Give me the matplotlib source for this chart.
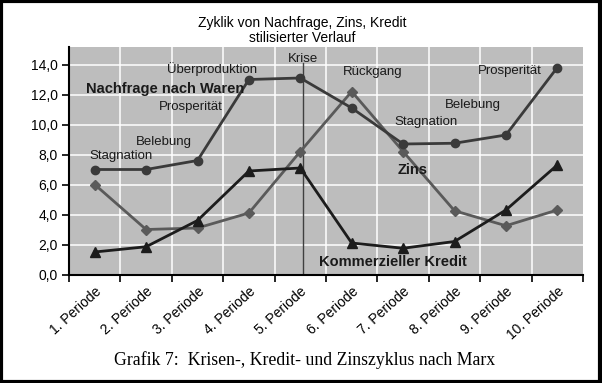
import matplotlib
matplotlib.use("Agg")
import matplotlib.pyplot as plt
from matplotlib.patches import Rectangle

categories = ["1. Periode", "2. Periode", "3. Periode", "4. Periode", "5. Periode",
              "6. Periode", "7. Periode", "8. Periode", "9. Periode", "10. Periode"]
nachfrage = [7.0, 7.0, 7.6, 13.0, 13.1, 11.1, 8.7, 8.75, 9.3, 13.8]
zins = [6.0, 3.0, 3.1, 4.1, 8.2, 12.2, 8.2, 4.25, 3.25, 4.3]
kredit = [1.5, 1.85, 3.6, 6.9, 7.1, 2.1, 1.75, 2.2, 4.3, 7.3]
y_ticks = [0, 2, 4, 6, 8, 10, 12, 14]
y_tick_labels = ["0,0", "2,0", "4,0", "6,0", "8,0", "10,0", "12,0", "14,0"]
krise_x = 4.05

# phase labels: (text, x, y, bold)
phase_labels = [
    ("Nachfrage nach Waren", 1.37, 12.37, True),
    ("Überproduktion", 2.28, 13.7, False),
    ("Krise", 4.05, 14.4, False),
    ("Rückgang", 5.41, 13.5, False),
    ("Prosperität", 8.08, 13.57, False),
    ("Prosperität", 1.87, 11.17, False),
    ("Belebung", 7.36, 11.3, False),
    ("Stagnation", 6.45, 10.17, False),
    ("Zins", 6.19, 6.97, True),
    ("Kommerzieller Kredit", 5.80, 0.83, True),
    ("Belebung", 1.35, 8.83, False),
    ("Stagnation", 0.51, 7.9, False),
]

plt.rcParams['font.family'] = ['Liberation Sans', 'DejaVu Sans']

fig = plt.figure(figsize=(6.02, 3.83), dpi=100)
fig.patch.set_facecolor("white")
ax = fig.add_axes([69/602, 1-274.5/383, (583-69)/602, (274.5-46.5)/383])
ax.set_facecolor("#bdbdbd")

x = list(range(len(categories)))
ax.set_xlim(-0.5, len(categories) - 0.5)
ax.set_ylim(0, 15.2)

# gridlines
for yv in y_ticks[1:]:
    ax.axhline(yv, color="white", lw=1.1, zorder=1)
for xb in range(1, len(categories)):
    ax.axvline(xb - 0.5, color="white", lw=1.1, zorder=1)

ax.plot(x, nachfrage, color="#3a3a3a", lw=2, marker="o", ms=6, zorder=4)
ax.plot(x, zins, color="#5a5a5a", lw=2, marker="D", ms=5, zorder=3)
ax.plot(x, kredit, color="#1c1c1c", lw=2, marker="^", ms=6.5, zorder=5)

ax.plot([krise_x, krise_x], [0, 14.1], color="#404040", lw=1, zorder=2)

for txt, tx, ty, bold in phase_labels:
    ax.text(tx, ty, txt, ha="center", va="center", fontsize=10.5 if bold else 9.5,
            fontweight="bold" if bold else "normal", color="#1a1a1a", zorder=6)

ax.set_yticks(y_ticks)
ax.set_yticklabels(y_tick_labels, fontsize=10)
ax.set_xticks([b - 0.5 for b in range(len(categories) + 1)])
ax.set_xticklabels([])
ax.set_xticks(x, minor=True)
ax.set_xticklabels(categories, minor=True, rotation=42, ha="right", va="top",
                   rotation_mode="anchor", fontsize=10)
ax.tick_params(axis="x", which="minor", length=0, pad=7)
ax.tick_params(axis="x", which="major", length=5, width=1.2, direction="out")
ax.tick_params(axis="y", length=5, width=1.2, direction="out", pad=3)

for s in ["top", "right"]:
    ax.spines[s].set_visible(False)
for s in ["left", "bottom"]:
    ax.spines[s].set_linewidth(1.5)
    ax.spines[s].set_color("black")

fig.text(302/602, 1-23/383, "Zyklik von Nachfrage, Zins, Kredit", ha="center", va="center", fontsize=10)
fig.text(302/602, 1-38/383, "stilisierter Verlauf", ha="center", va="center", fontsize=10)
fig.text(305/602, 1-360/383, "Grafik 7:  Krisen-, Kredit- und Zinszyklus nach Marx",
         ha="center", va="center", fontsize=12.8, family=["Liberation Serif", "DejaVu Serif"])

fig.add_artist(Rectangle((0.002, 0.003), 0.995, 0.994, transform=fig.transFigure,
                         fill=False, edgecolor="black", lw=3))

fig.savefig("out.png", dpi=100, facecolor="white")
